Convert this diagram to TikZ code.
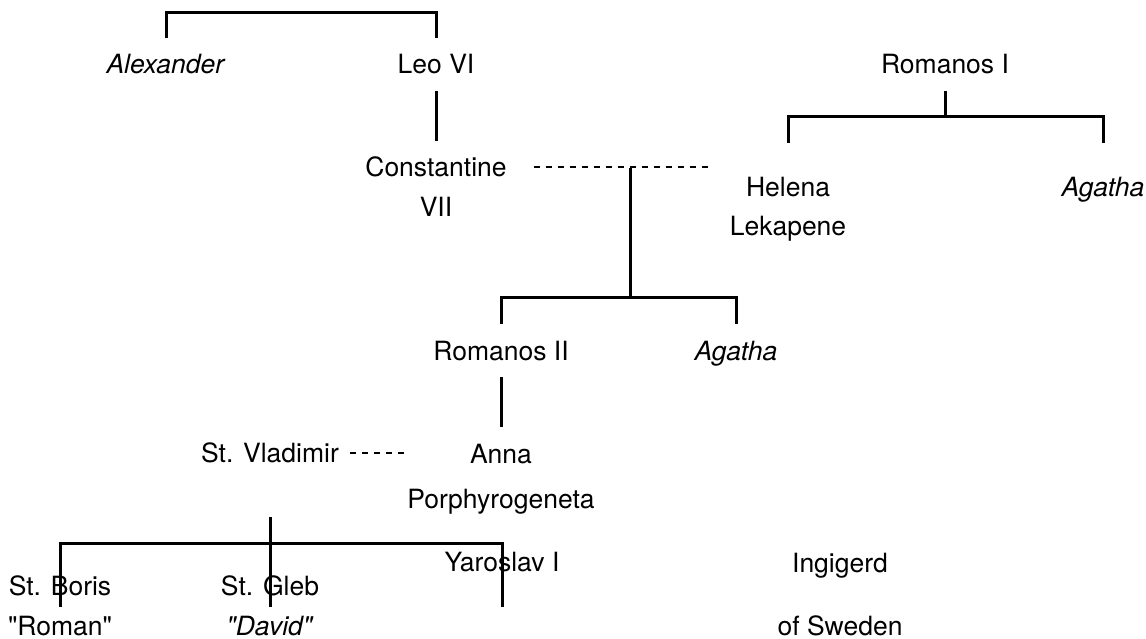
\documentclass[tikz,border=0pt]{standalone}
\usepackage{fontspec}
\setmainfont{TeX Gyre Heros}
\usepackage{tikz}
\usetikzlibrary{positioning}

\begin{document}
\begin{tikzpicture}[x=1pt,y=1pt,node distance=40pt,on grid,
    person/.style={font=\fontsize{26.5}{30}\selectfont,inner sep=0pt,outer sep=17pt,
      text height=19pt,text depth=0pt,anchor=base},
    kin/.style={line width=3pt},
    wed/.style={line width=2pt,dash pattern=on 6pt off 6pt}]
  \useasboundingbox (0,0) rectangle (1146,-639);
  \node[person] (alex) at (166,-74) {\textit{Alexander}};
  \node[person] (leo) at (436,-74) {Leo VI};
  \node[person] (rom1) at (945,-74) {Romanos I};
  \node[person] (const) at (436,-177) {Constantine};
  \node[person] (const2) [below=of const] {VII};
  \node[person] (helena) at (788,-197) {Helena};
  \node[person] (helena2) [below=39pt of helena] {Lekapene};
  \node[person] (agatha1) at (1103,-197) {\textit{Agatha}};
  \node[person] (rom2) at (501,-360) {Romanos II};
  \node[person] (agatha2) at (736,-360) {\textit{Agatha}};
  \node[person] (vlad) at (270,-462) {St. Vladimir};
  \node[person] (anna) at (501,-463) {Anna};
  \node[person] (anna2) [below=45pt of anna] {Porphyrogeneta};
  \node[person] (boris) at (60,-595) {St. Boris};
  \node[person] (boris2) [below=40pt of boris] {\textquotedbl Roman\textquotedbl};
  \node[person] (gleb) at (270,-595) {St. Gleb};
  \node[person] (gleb2) [below=40pt of gleb] {\textit{\textquotedbl David\textquotedbl}};
  \node[person] (yaro) at (502,-571) {Yaroslav I};
  \node[person] (ingi) at (840,-572) {Ingigerd};
  \node[person] (ingi2) [below=63pt of ingi] {of Sweden};

  \coordinate (cw) at (630,-168);
  \coordinate (c2) at (630,-297);
  \coordinate (kids) at (270,-543);

  \draw[kin] (alex.north) -- ++(0,25) -| (leo.north);
  \draw[kin] (leo.south) -- (const.north);
  \draw[kin] (rom1.south) -- ++(0,-26) coordinate (r1);
  \draw[kin] ([yshift=18pt]helena.north) |- (r1) -| ([yshift=18pt]agatha1.north);
  \draw[wed] ([xshift=10pt]const.east) -- ++(176,0);
  \draw[kin] (cw) -- (c2);
  \draw[kin] (rom2.north) |- (c2) -| (agatha2.north);
  \draw[kin] (rom2.south) -- (anna.north);
  \draw[wed] ([xshift=-6pt]vlad.east) -- ++(54,0);
  \draw[kin] ([yshift=-38pt]vlad.south) -- ([yshift=-12pt]gleb.base);
  \draw[kin] ([yshift=-12pt]boris.base) |- (kids) -| ([yshift=-36pt]yaro.base);
\end{tikzpicture}
\end{document}
